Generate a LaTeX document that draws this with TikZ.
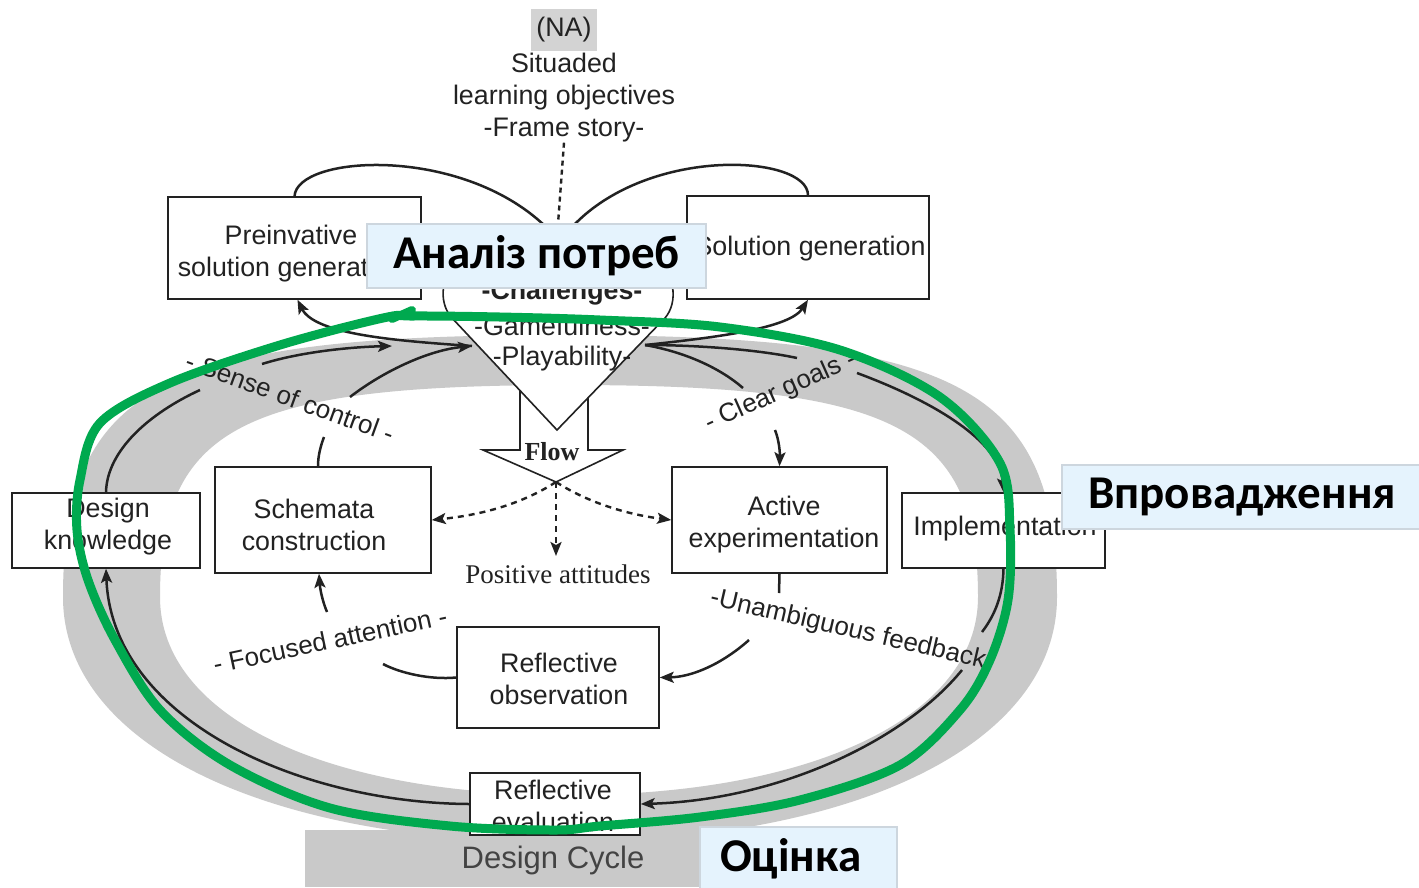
\documentclass[tikz,border=0pt]{standalone}
\usepackage{fontspec}
\setmainfont{Liberation Sans}
\newfontfamily\serifFont{Liberation Serif}
\newfontfamily\uaFont{Carlito}
\usetikzlibrary{arrows.meta}
\definecolor{ink}{HTML}{222222}
\definecolor{ringgray}{HTML}{C9C9C9}
\definecolor{grn}{HTML}{00A94F}
\definecolor{lblfill}{HTML}{E5F3FD}
\definecolor{lbldraw}{HTML}{CDD6DE}
\definecolor{nabg}{HTML}{D3D3D3}
\begin{document}
\begin{tikzpicture}[x=1pt,y=-1pt,
  box/.style={draw=ink, line width=1.5pt, fill=white, inner sep=0pt},
  txt/.style={text=ink, inner sep=0pt, align=center, font=\fontsize{26.8}{32}\selectfont},
  arclbl/.style={text=ink, inner sep=0pt, font=\fontsize{26}{30}\selectfont},
  conn/.style={draw=ink, line width=2.5pt},
  tip/.style={-{Stealth[length=14pt,width=11pt,inset=3pt]}},
  dashconn/.style={draw=ink, line width=2.4pt, dash pattern=on 6pt off 5pt},
  uabox/.style={fill=lblfill, draw=lbldraw, line width=1.2pt, inner sep=0pt, text=black, font=\uaFont\bfseries\fontsize{47}{52}\selectfont},
]
\useasboundingbox (0,0) rectangle (1419,887);
\fill[white] (0,0) rectangle (1419,887);

% gray ring
\fill[ringgray, even odd rule]
  (1057,597) .. controls (1057,387) and (958,335) .. (560,335)
  .. controls (162,335) and (63,387) .. (63,597)
  .. controls (63,743) and (262,842) .. (560,842)
  .. controls (858,842) and (1057,743) .. (1057,597) -- cycle
  (978,597) .. controls (978,427) and (896,385) .. (569,385)
  .. controls (242,385) and (160,427) .. (160,597)
  .. controls (160,716) and (324,795) .. (569,795)
  .. controls (814,795) and (978,716) .. (978,597) -- cycle;
\fill[ringgray] (305,830) rectangle (700,887);

% boxes
\node[box, minimum width=253pt, minimum height=102pt] (pre) at (294.5,248) {};
\node[box, minimum width=242pt, minimum height=103pt] (sol) at (808,247.5) {};
\node[box, minimum width=188pt, minimum height=75pt] (dk) at (106,530.5) {};
\node[box, minimum width=216pt, minimum height=106pt] (sch) at (323,520) {};
\node[box, minimum width=215pt, minimum height=106pt] (act) at (779.5,520) {};
\node[box, minimum width=203pt, minimum height=75pt] (imp) at (1003.5,530.5) {};
\node[box, minimum width=202pt, minimum height=101pt] (rob) at (558,677.5) {};
\node[box, minimum width=170pt, minimum height=62pt] (rev) at (555,804) {};
\fill[ringgray] (465,836) rectangle (645,887);

\node[txt] (pret) at (291,254) {Preinvative\\solution generation};
\node[txt] (solt) at (810,249) {Solution generation};
\node[txt] (dkt) at (108,527) {Design\\knowledge};
\node[txt] (scht) at (314,525) {Schemata\\construction};
\node[txt] (actt) at (784,525) {Active\\experimentation};
\node[txt] (impt) at (1005,529) {Implementation};
\node[txt] (robt) at (559,679) {Reflective\\observation};
\node[txt] (revt) at (553,806) {Reflective\\evaluation};

% top texts
\node[txt, fill=nabg, minimum width=66pt, minimum height=42pt] (na) at (564,30) {(NA)};
\node[txt] (sit) at (564,98) {Situaded\\learning objectives\\-Frame story-};

% coordinates
\coordinate (hc) at (558,224);
\coordinate (htl) at (545,226);
\coordinate (htr) at (573,226);
\coordinate (hl) at (472,346);
\coordinate (hr) at (645,345);
\coordinate (so1) at (200,390);
\coordinate (so2) at (262,364);
\coordinate (sc1) at (324,437);
\coordinate (sc2) at (350,397);
\coordinate (cg1) at (797,358);
\coordinate (cg2) at (857,373);
\coordinate (cg3) at (743,388);
\coordinate (cg4) at (775,430);
\coordinate (fb1) at (982,632);
\coordinate (fb2) at (962,670);
\coordinate (ub1) at (779,593);
\coordinate (ub2) at (749,640);
\coordinate (fa1) at (383,664);
\coordinate (fa2) at (327,612);
\coordinate (ft) at (556,482);
\coordinate (pa) at (556,556);

% top curves and dashed line
\draw[dashconn, dash pattern=on 5pt off 4pt] (sit.south) -- (hc);
\draw[conn] (pre.north) .. controls (297,155) and (460,145) .. (htl);
\draw[conn] (htr) .. controls (650,145) and (808,155) .. (sol.north);

% arcs
\draw[conn, tip] (hl) .. controls (400,341) and (315,335) .. ([xshift=3pt]pre.south);
\draw[conn] (dk.north) .. controls (107,450) and (150,413) .. (so1);
\draw[conn, tip] (so2) .. controls (300,352) and (350,347) .. (392,346);
\draw[conn] ([xshift=-5pt]sch.north) .. controls (318,455) and (321,445) .. (sc1);
\draw[conn, tip] (sc2) .. controls (385,370) and (430,350) .. (hl);

\draw[conn, tip] (hr) .. controls (720,337) and (790,328) .. (sol.south);
\draw[conn] (hr) .. controls (700,345) and (760,350) .. (cg1);
\draw[conn, tip] (cg2) .. controls (930,400) and (1000,440) .. (imp.north);
\draw[conn] (hr) .. controls (685,352) and (720,368) .. (cg3);
\draw[conn, tip] (cg4) .. controls (779,440) and (780,452) .. (act.north);

\draw[conn] (imp.south) .. controls (1003,595) and (995,615) .. (fb1);
\draw[conn, tip] (fb2) .. controls (905,740) and (780,800) .. (rev.east);
\draw[conn] (act.south) -- (ub1);
\draw[conn, tip] (ub2) .. controls (722,664) and (692,677) .. (rob.east);
\draw[conn] (rob.west) .. controls (430,680) and (400,673) .. (fa1);
\draw[conn, tip] (fa2) .. controls (322,600) and (320,588) .. ([xshift=-4pt]sch.south);
\draw[conn, tip] (rev.west) .. controls (300,803) and (112,720) .. (dk.south);

% flow arrow and heart
\draw[ink, line width=1.6pt, fill=white] (520,380) -- (520,450) -- (483,450) -- (ft) -- (623,450) -- (588,450) -- (588,380);
\draw[ink, line width=1.6pt, fill=white] (557,430) -- (452,318)
  .. controls (438,303) and (438,270) .. (470,255)
  .. controls (510,238) and (550,245) .. (558,262)
  .. controls (566,245) and (606,238) .. (646,255)
  .. controls (678,270) and (678,303) .. (665,318) -- cycle;
\node[txt, font=\bfseries\fontsize{26.8}{32}\selectfont] (ch) at (562,293) {-Challenges-};
\node[txt] (gf) at (562,326) {-Gamefulness-};
\node[txt] (pl) at (562,359) {-Playability-};
\node[txt, font=\serifFont\bfseries\fontsize{26}{30}\selectfont] (flow) at (552,452) {Flow};

% flow dashed arrows
\draw[dashconn, tip] (ft) .. controls (520,505) and (480,515) .. (sch.east);
\draw[dashconn, tip] (ft) .. controls (592,505) and (632,515) .. (act.west);
\draw[dashconn, tip] (ft) -- (pa);
\node[txt, font=\serifFont\fontsize{27}{30}\selectfont] (pos) at (558,574) {Positive attitudes};

% arc labels
\node[arclbl, rotate=-20] (lsc) at (290,397) {- Sense of control -};
\node[arclbl, rotate=24] (lcg) at (781,392) {- Clear goals -};
\node[arclbl, rotate=12] (lfa) at (330,640) {- Focused attention -};
\node[arclbl, rotate=-13] (lub) at (848,630) {-Unambiguous feedback};

\node[txt, text=ink!85, font=\fontsize{31}{36}\selectfont] (dc) at (553,860) {Design Cycle};

% green loop
\draw[grn, line width=9pt, line join=round, line cap=round] plot[smooth cycle, tension=0.55] coordinates {
 (413,316) (500,317) (600,320) (720,327) (840,350) (940,397) (1000,463) (1010,530)
 (1008,600) (990,660) (960,710) (900,765) (800,800) (700,817) (600,826) (555,830)
 (450,826) (330,808) (230,765) (160,710) (115,640) (88,580) (77,530) (80,480)
 (100,423) (170,383) (280,345) (383,318)};
\draw[grn, line width=8pt, line cap=round] (392,319) -- (412,310);

% Ukrainian labels
\node[uabox, minimum width=339pt, minimum height=64pt] (lab1) at (536.5,256) {Аналіз потреб};
\node[uabox, minimum width=360pt, minimum height=64pt] (lab2) at (1242,497) {Впровадження};
\node[uabox, minimum height=64pt, inner xsep=20pt, text width=157pt, align=left] (lab3) at (798.5,859) {Оцінка};
\end{tikzpicture}
\end{document}
